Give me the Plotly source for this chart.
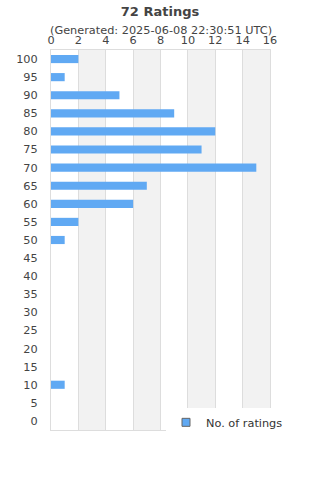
import plotly.graph_objects as go

categories = [str(v) for v in range(0, 101, 5)]
counts = [0, 0, 1, 0, 0, 0, 0, 0, 0, 0, 1, 2, 6, 7, 15, 11, 12, 9, 5, 1, 2]
x_ticks = list(range(0, 17, 2))
title = "72 Ratings"
subtitle = "(Generated: 2025-06-08 22:30:51 UTC)"
series_name = "No. of ratings"

bar_color = "#60a9f3"
font = "DejaVu Sans, sans-serif"

fig = go.Figure()
fig.add_trace(go.Bar(
    x=counts, y=categories, orientation="h",
    marker=dict(color=bar_color, line=dict(width=0)),
    showlegend=False, name=series_name,
))
fig.add_trace(go.Scatter(
    x=[None], y=[None], mode="markers", name=series_name,
    marker=dict(symbol="square", size=8, color=bar_color,
                line=dict(color="#666666", width=1)),
))

shapes = []
for i in range(1, len(x_ticks) - 1, 2):
    shapes.append(dict(type="rect", xref="x", yref="paper",
                       x0=x_ticks[i], x1=x_ticks[i + 1], y0=0, y1=1,
                       fillcolor="#f2f2f2", line=dict(width=0), layer="below"))

fig.update_layout(
    width=320, height=480,
    margin=dict(l=51, r=50, t=50, b=50),
    paper_bgcolor="white", plot_bgcolor="white",
    font=dict(family=font, color="#444444", size=11),
    title=dict(text="<b>" + title + "</b>", x=0.5, xanchor="center",
               y=1 - 11 / 480, yanchor="middle",
               font=dict(size=13, color="#444444", family=font)),
    annotations=[dict(text=subtitle, x=0.5, xref="paper",
                      y=(430 - 30) / 380, yref="paper",
                      yanchor="middle", showarrow=False,
                      font=dict(size=11.3, color="#444444", family=font))],
    bargap=0.55,
    shapes=shapes,
    xaxis=dict(side="top", range=[0, 16], tickvals=x_ticks,
               showgrid=True, gridcolor="#dddddd", gridwidth=1,
               showline=True, linecolor="#dddddd", mirror=True,
               zeroline=False, ticks="", ticklen=0,
               tickfont=dict(size=11.3, color="#444444")),
    yaxis=dict(type="category", categoryorder="array", categoryarray=categories,
               showgrid=False, showline=True, linecolor="#dddddd", mirror=True,
               ticks="", ticklabelstandoff=10,
               tickfont=dict(size=11.3, color="#444444")),
    legend=dict(x=(166 - 51) / 219, xanchor="left", y=-0.018, yanchor="bottom",
                bgcolor="white", borderwidth=0,
                font=dict(size=11.3, color="#333333")),
)

fig.write_html("out.html")
